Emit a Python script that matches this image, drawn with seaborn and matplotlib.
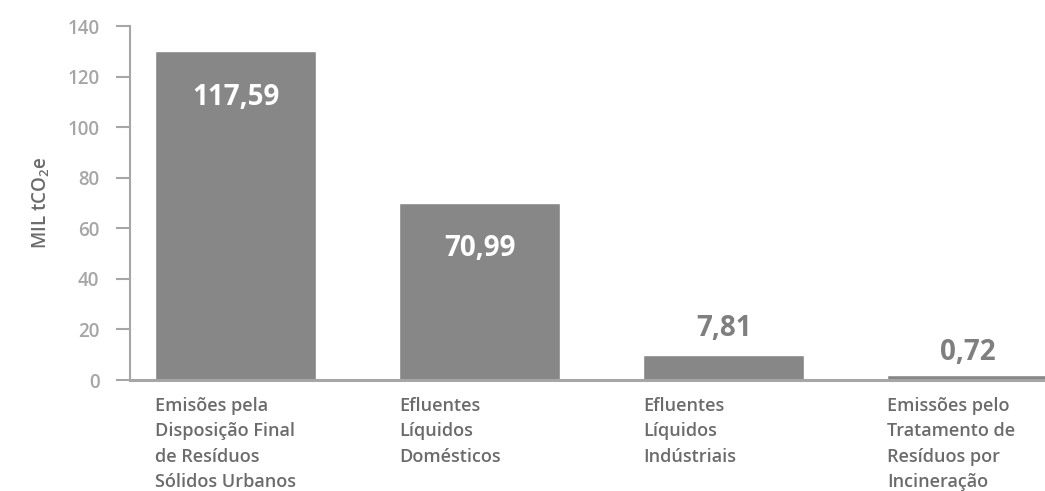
import matplotlib
matplotlib.use("Agg")
import matplotlib.pyplot as plt
import matplotlib.transforms as mtransforms
import seaborn as sns
import pandas as pd

# categorias e valores
categorias = [
    "Emisões pela\nDisposição Final\nde Resíduos\nSólidos Urbanos",
    "Efluentes\nLíquidos\nDomésticos",
    "Efluentes\nLíquidos\nIndústriais",
    "Emissões pelo\nTratamento de\nResíduos por\nIncineração",
]
alturas = [130, 70, 10, 2]
rotulos = ["117,59", "70,99", "7,81", "0,72"]
dentro = [True, True, False, False]

df = pd.DataFrame({"cat": categorias, "valor": alturas})

sns.set_theme(style="white")
plt.rcParams["font.family"] = ["Open Sans", "DejaVu Sans"]
plt.rcParams["mathtext.fontset"] = "custom"
plt.rcParams["mathtext.rm"] = "Open Sans:semibold"

cinza_barra = "#878787"
cinza_eixo = "#a6a6a6"
cinza_texto = "#6b6b6b"

fig = plt.figure(figsize=(10.45, 4.91), dpi=100)
ax = fig.add_axes([0.1244, 0.226, 0.8756, 0.721])

largura = 0.66
sns.barplot(data=df, x="cat", y="valor", color=cinza_barra, saturation=1,
            width=largura, ax=ax)

ax.set_ylim(0, 140)
ax.set_xlim(-0.434, 3.316)
ax.set_yticks(range(0, 141, 20))
ax.tick_params(axis="y", length=10, width=1.5, color=cinza_eixo, labelcolor=cinza_eixo,
               labelsize=13.5, pad=12, left=True)
ax.set_xticks([])
ax.set_xlabel("")
ax.set_ylabel("MIL tCO$_\\mathregular{2}$e", color=cinza_texto, fontsize=13.5,
              fontweight="semibold", labelpad=11)
for lbl in ax.get_yticklabels():
    lbl.set_fontweight("semibold")

for s in ["top", "right"]:
    ax.spines[s].set_visible(False)
ax.spines["left"].set_color(cinza_eixo)
ax.spines["left"].set_linewidth(1.5)
ax.spines["bottom"].set_color(cinza_eixo)
ax.spines["bottom"].set_linewidth(2.2)

# rotulos das categorias, alinhados a esquerda das barras
trans = mtransforms.blended_transform_factory(ax.transData, ax.transAxes)
for i, cat in enumerate(categorias):
    ax.text(i - largura / 2, -0.047, cat, transform=trans, ha="left", va="top",
            fontsize=13, fontweight="semibold", color=cinza_texto, linespacing=1.53)

# valores
for i, (h, txt, d) in enumerate(zip(alturas, rotulos, dentro)):
    if d:
        ax.annotate(txt, (i, h), xytext=(0, -33), textcoords="offset points",
                    ha="center", va="center", fontsize=20, fontweight="bold",
                    color="white")
    else:
        dy = 19 if h > 5 else 16
        ax.annotate(txt, (i, h), xytext=(0, dy), textcoords="offset points",
                    ha="center", va="center", fontsize=20, fontweight="bold",
                    color="#7f7f7f")

fig.savefig("out.png", dpi=100)
